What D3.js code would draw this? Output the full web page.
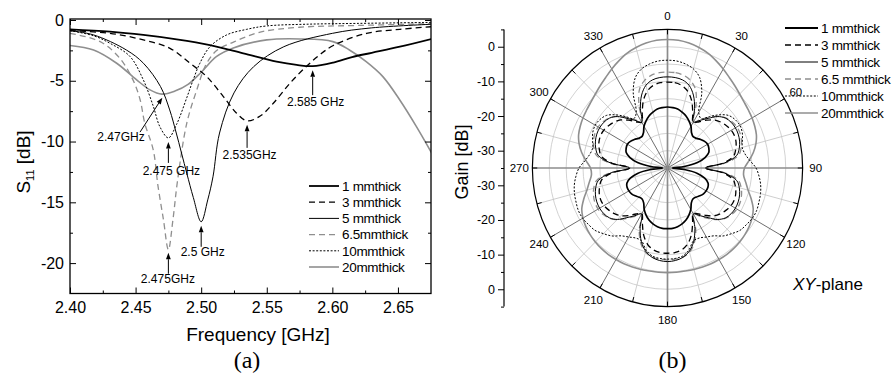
<!DOCTYPE html>
<html>
<head>
<meta charset="utf-8">
<title>S11 and XY-plane gain versus substrate thickness</title>
<script src="https://cdn.jsdelivr.net/npm/d3@7/dist/d3.min.js"></script>
<style>
  html, body { margin: 0; padding: 0; background: #fff; }
  svg { display: block; }
</style>
</head>
<body>
<svg id="fig" width="895" height="375" viewBox="0 0 895 375"></svg>
<script>
// ---------------- data: (a) reflection coefficient ----------------
const freqTicks  = [2.40, 2.45, 2.50, 2.55, 2.60, 2.65];
const freqMinor  = [2.425, 2.475, 2.525, 2.575, 2.625];
const s11Ticks   = [0, -5, -10, -15, -20];
const s11Minor   = [-2.5, -7.5, -12.5, -17.5];

const legendA = ["1 mmthick", "3 mmthick", "5 mmthick", "6.5mmthick", "10mmthick", "20mmthick"];

const freq1mm = [2.400, 2.4305, 2.4559, 2.4813, 2.5067, 2.5321, 2.5575, 2.5728, 2.585, 2.6007, 2.615, 2.630, 2.6515, 2.676];
const s11_1mm = [-0.77, -0.96, -1.23, -1.59, -2.06, -2.74, -3.43, -3.70, -3.80, -3.50, -3.05, -2.70, -2.20, -1.55];

const freq3mm = [2.400, 2.4305, 2.4559, 2.4762, 2.4915, 2.5042, 2.5169, 2.527, 2.535, 2.545, 2.555, 2.5677, 2.580, 2.590, 2.6007, 2.6261, 2.6515, 2.676];
const s11_3mm = [-0.88, -1.10, -1.64, -2.33, -3.56, -4.66, -6.30, -7.67, -8.30, -7.90, -6.85, -5.20, -3.84, -2.90, -2.10, -1.10, -0.77, -0.55];

const freq5mm = [2.400, 2.418, 2.443, 2.456, 2.469, 2.476, 2.481, 2.489, 2.494, 2.500, 2.505, 2.509, 2.514, 2.525, 2.540, 2.563, 2.600, 2.630, 2.676];
const s11_5mm = [-0.88, -1.23, -2.47, -3.56, -5.48, -7.40, -9.30, -12.6, -14.6, -16.6, -14.8, -12.9, -9.3, -6.0, -3.84, -2.20, -1.10, -0.65, -0.35];

const freq65mm = [2.400, 2.423, 2.438, 2.448, 2.4535, 2.457, 2.4635, 2.467, 2.4712, 2.475, 2.4785, 2.482, 2.489, 2.4965, 2.504, 2.512, 2.525, 2.545, 2.575, 2.620, 2.676];
const s11_65mm = [-1.10, -1.78, -3.15, -4.93, -6.58, -8.50, -10.7, -13.6, -16.4, -18.9, -16.4, -13.2, -8.50, -5.80, -3.60, -2.50, -1.80, -1.00, -0.60, -0.45, -0.30];

const freq10mm = [2.400, 2.418, 2.4305, 2.4457, 2.4559, 2.4635, 2.4686, 2.475, 2.4812, 2.489, 2.494, 2.499, 2.5067, 2.5194, 2.5347, 2.550, 2.580, 2.620, 2.676];
const s11_10mm = [-0.88, -1.30, -1.92, -3.00, -4.93, -7.10, -8.80, -9.70, -8.60, -6.40, -4.90, -3.56, -2.20, -1.23, -0.77, -0.49, -0.35, -0.28, -0.20];

const freq20mm = [2.400, 2.418, 2.4356, 2.4508, 2.461, 2.470, 2.480, 2.490, 2.500, 2.5118, 2.5245, 2.550, 2.5754, 2.6004, 2.613, 2.6258, 2.6385, 2.6514, 2.6641, 2.676];
const s11_20mm = [-2.10, -2.47, -3.56, -4.93, -5.75, -6.10, -5.85, -5.30, -4.30, -3.00, -2.30, -1.64, -1.56, -1.78, -2.47, -3.43, -4.66, -6.58, -8.77, -11.0];

// resonance markers: series index, frequency, text
const dipSeries = [0, 1, 4, 5, 2, 3];
const dipFreqs  = [2.585, 2.535, 2.475, 2.47, 2.5, 2.475];
const dipLabels = ["2.585 GHz", "2.535GHz", "2.475 GHz", "2.47GHz", "2.5 GHz", "2.475GHz"];

// ---------------- data: (b) XY-plane gain pattern ----------------
const legendB = ["1 mmthick", "3 mmthick", "5 mmthick", "6.5 mmthick", "10mmthick", "20mmthick"];
const gainTicks = [0, -10, -20, -30];
const gainMinor = [5, -5, -15, -25, -35];
const gridLevels = [-30, -25, -20, -15, -10, -5, 0];
const angleTicks = [0, 30, 60, 90, 120, 150, 180, 210, 240, 270, 300, 330];
const spokeAngles = d3.range(0, 360, 15);
const polarAngles = d3.range(0, 360, 5);   // 0..355 deg, clockwise from top

const gain1mm = [
  -17.4, -17.5, -17.7, -18.3, -19.0, -20.0, -21.1, -22.6, -23.2, -22.9, -22.2, -21.6, -21.3, -21.5, -22.0, -23.5, -26.0, -30.0,
  -33.5, -30.0, -26.0, -23.6, -22.2, -21.8, -21.8, -22.0, -22.5, -23.1, -23.3, -22.7, -21.2, -20.0, -19.0, -18.3, -17.8, -17.5,
  -17.5, -17.5, -17.8, -18.3, -19.0, -20.0, -21.2, -22.7, -23.3, -23.1, -22.5, -22.0, -21.8, -21.8, -22.2, -23.6, -26.0, -30.0,
  -33.5, -30.0, -26.0, -23.5, -22.0, -21.5, -21.3, -21.6, -22.2, -22.9, -23.2, -22.6, -21.1, -20.0, -19.0, -18.3, -17.7, -17.5];

const gain3mm = [
  -10.2, -10.3, -10.8, -12.0, -14.2, -17.3, -19.8, -18.7, -17.0, -15.4, -14.4, -13.7, -13.2, -13.1, -13.4, -14.1, -15.1, -18.4,
  -23.8, -18.4, -15.2, -14.2, -13.5, -13.2, -13.3, -13.8, -14.5, -15.5, -17.1, -18.8, -19.8, -17.4, -14.4, -12.2, -11.0, -10.5,
  -10.4, -10.5, -11.0, -12.2, -14.4, -17.4, -19.8, -18.8, -17.1, -15.5, -14.5, -13.8, -13.3, -13.2, -13.5, -14.2, -15.2, -18.4,
  -23.8, -18.4, -15.1, -14.1, -13.4, -13.1, -13.2, -13.7, -14.4, -15.4, -17.0, -18.7, -19.8, -17.3, -14.2, -12.0, -10.8, -10.3];

const gain5mm = [
  -8.7, -8.8, -9.2, -10.3, -12.6, -16.0, -19.7, -18.2, -16.3, -14.0, -12.6, -12.0, -11.8, -11.9, -12.3, -13.0, -14.2, -18.0,
  -23.8, -18.0, -14.2, -13.0, -12.3, -11.9, -11.8, -12.0, -12.6, -14.0, -16.3, -18.2, -19.7, -15.8, -12.4, -10.1, -8.8, -8.2,
  -8.0, -8.2, -8.8, -10.1, -12.4, -15.8, -19.7, -18.2, -16.3, -14.0, -12.6, -12.0, -11.8, -11.9, -12.3, -13.0, -14.2, -18.0,
  -23.8, -18.0, -14.2, -13.0, -12.3, -11.9, -11.8, -12.0, -12.6, -14.0, -16.3, -18.2, -19.7, -16.0, -12.6, -10.3, -9.2, -8.8];

const gain65mm = [
  -7.3, -7.4, -7.8, -8.8, -10.8, -15.0, -19.6, -17.9, -15.9, -13.9, -12.5, -11.7, -11.3, -11.3, -11.7, -12.4, -13.6, -17.6,
  -23.7, -17.6, -13.6, -12.4, -11.7, -11.3, -11.3, -11.7, -12.5, -13.9, -15.9, -17.9, -19.6, -15.2, -11.9, -9.8, -8.9, -8.6,
  -8.5, -8.6, -8.9, -9.8, -11.9, -15.2, -19.6, -17.9, -15.9, -13.9, -12.5, -11.7, -11.3, -11.3, -11.7, -12.4, -13.6, -17.6,
  -23.7, -17.6, -13.6, -12.4, -11.7, -11.3, -11.3, -11.7, -12.5, -13.9, -15.9, -17.9, -19.6, -15.0, -10.8, -8.8, -7.8, -7.4];

const gain10mm = [
  -3.9, -4.0, -4.5, -5.4, -7.2, -11.0, -16.5, -17.6, -15.6, -13.3, -11.4, -10.6, -10.3, -10.6, -11.4, -12.1, -11.7, -10.5,
  -8.8, -7.8, -7.0, -6.5, -6.2, -5.9, -6.0, -6.5, -7.0, -8.2, -9.4, -11.1, -12.0, -12.7, -12.6, -10.5, -9.2, -8.8,
  -8.7, -8.8, -9.2, -10.5, -12.6, -12.7, -12.0, -11.1, -9.4, -8.2, -7.0, -6.5, -6.0, -5.9, -6.2, -6.5, -7.0, -7.8,
  -8.8, -10.5, -11.7, -12.1, -11.4, -10.6, -10.3, -10.6, -11.4, -13.3, -15.6, -17.6, -16.5, -11.0, -7.2, -5.4, -4.5, -4.0];

const gain20mm = [
  2.1, 2.0, 1.6, 1.0, 0.2, -0.9, -2.0, -3.1, -4.0, -4.8, -5.4, -5.8, -6.1, -6.5, -7.0, -7.9, -9.2, -10.8,
  -12.2, -12.4, -11.5, -10.3, -8.6, -7.0, -6.1, -5.5, -5.1, -4.8, -4.6, -4.5, -4.5, -4.5, -4.6, -4.7, -4.8, -4.8,
  -4.8, -4.8, -4.8, -4.7, -4.6, -4.5, -4.5, -4.5, -4.6, -4.8, -5.1, -5.5, -6.1, -7.0, -8.6, -10.3, -11.5, -12.4,
  -12.2, -10.8, -9.2, -7.9, -7.0, -6.5, -6.1, -5.8, -5.4, -4.8, -4.0, -3.1, -2.0, -0.9, 0.2, 1.0, 1.6, 2.0];

// ---------------- drawing ----------------
const SANS = '"Liberation Sans", Arial, Helvetica, sans-serif';
const SERIF = '"Liberation Serif", "Times New Roman", Times, serif';
const GREY = '#8f8f8f';

const svg = d3.select('#fig');
const defs = svg.append('defs');

// line look for each thickness, in legend order
const looks = [
  { stroke: '#000', width: 1.8, dash: null },
  { stroke: '#000', width: 1.3, dash: '6,4' },
  { stroke: '#000', width: 1.0, dash: null },
  { stroke: GREY,   width: 1.3, dash: '6,4' },
  { stroke: '#000', width: 1.0, dash: '2,1.6' },
  { stroke: GREY,   width: 1.6, dash: null }
];
function applyLook(sel, k) {
  sel.attr('fill', 'none')
     .attr('stroke', looks[k].stroke)
     .attr('stroke-width', looks[k].width)
     .attr('stroke-dasharray', looks[k].dash)
     .attr('stroke-linejoin', 'round');
}

// ======== panel (a) ========
const A = { left: 70, right: 431, top: 19, bottom: 293.5 };
const x = d3.scaleLinear().domain([2.40, 2.6752]).range([A.left, A.right]);
const y = d3.scaleLinear().domain([-22.5, 0.08]).range([A.bottom, A.top]);

defs.append('clipPath').attr('id', 'clip-a').append('rect')
  .attr('x', A.left).attr('y', A.top)
  .attr('width', A.right - A.left).attr('height', A.bottom - A.top);

const seriesA = [
  { f: freq1mm,  v: s11_1mm },
  { f: freq3mm,  v: s11_3mm },
  { f: freq5mm,  v: s11_5mm },
  { f: freq65mm, v: s11_65mm },
  { f: freq10mm, v: s11_10mm },
  { f: freq20mm, v: s11_20mm }
];

const lineA = d3.line().x(d => x(d[0])).y(d => y(d[1])).curve(d3.curveCatmullRom.alpha(0.5));
const curvesA = svg.append('g').attr('clip-path', 'url(#clip-a)');
[5, 3, 4, 1, 2, 0].forEach(k => {
  const s = seriesA[k];
  curvesA.append('path')
    .attr('d', lineA(s.f.map((f, j) => [f, s.v[j]])))
    .call(applyLook, k);
});

function finishAxis(g, size) {
  g.attr('font-family', SANS).attr('font-size', size);
  g.select('.domain').remove();
  g.selectAll('.tick line').attr('stroke', '#000').attr('stroke-width', 1);
  g.selectAll('.tick text').attr('fill', '#000');
}

// inward ticks on all four sides
svg.append('g').attr('transform', `translate(0,${A.bottom})`)
  .call(d3.axisBottom(x).tickValues(freqTicks).tickSize(-6).tickSizeOuter(0).tickPadding(8).tickFormat(d3.format('.2f')))
  .call(finishAxis, 16);
svg.append('g').attr('transform', `translate(0,${A.bottom})`)
  .call(d3.axisBottom(x).tickValues(freqMinor).tickSize(-3).tickSizeOuter(0).tickFormat(''))
  .call(finishAxis, 16);
svg.append('g').attr('transform', `translate(0,${A.top})`)
  .call(d3.axisTop(x).tickValues(freqTicks).tickSize(-6).tickSizeOuter(0).tickFormat(''))
  .call(finishAxis, 16);
svg.append('g').attr('transform', `translate(0,${A.top})`)
  .call(d3.axisTop(x).tickValues(freqMinor).tickSize(-3).tickSizeOuter(0).tickFormat(''))
  .call(finishAxis, 16);
svg.append('g').attr('transform', `translate(${A.left},0)`)
  .call(d3.axisLeft(y).tickValues(s11Ticks).tickSize(-6).tickSizeOuter(0).tickPadding(6).tickFormat(d => String(d)))
  .call(finishAxis, 16);
svg.append('g').attr('transform', `translate(${A.left},0)`)
  .call(d3.axisLeft(y).tickValues(s11Minor).tickSize(-3).tickSizeOuter(0).tickFormat(''))
  .call(finishAxis, 16);
svg.append('g').attr('transform', `translate(${A.right},0)`)
  .call(d3.axisRight(y).tickValues(s11Ticks).tickSize(-6).tickSizeOuter(0).tickFormat(''))
  .call(finishAxis, 16);
svg.append('g').attr('transform', `translate(${A.right},0)`)
  .call(d3.axisRight(y).tickValues(s11Minor).tickSize(-3).tickSizeOuter(0).tickFormat(''))
  .call(finishAxis, 16);

svg.append('rect')
  .attr('x', A.left).attr('y', A.top)
  .attr('width', A.right - A.left).attr('height', A.bottom - A.top)
  .attr('fill', 'none').attr('stroke', '#000').attr('stroke-width', 1.3);

// axis titles
svg.append('text')
  .attr('x', 258).attr('y', 341)
  .attr('text-anchor', 'middle')
  .attr('font-family', SANS).attr('font-size', 19)
  .text('Frequency [GHz]');

const s11Title = svg.append('text')
  .attr('transform', 'translate(30,162) rotate(-90)')
  .attr('text-anchor', 'middle')
  .attr('font-family', SANS).attr('font-size', 19);
s11Title.append('tspan').text('S');
s11Title.append('tspan').attr('dy', 4).attr('font-size', 11).text('11');
s11Title.append('tspan').attr('dy', -4).text(' [dB]');

// resonance arrows: [tip dx, tip dy, tail dx, tail dy, text dx, text dy]
const arrowLayout = [
  [0, 4, 0, 29, 3, 40],
  [0, 4, 0, 27, 2.5, 38],
  [0, 4, 0, 25, 3, 37],
  [0.5, 3.5, -21.8, 38, -40.8, 47],
  [0, 4, 0, 25, 1.5, 34],
  [0, 3, 0, 24, -0.5, 33]
];
const notes = svg.append('g');
dipSeries.forEach((k, i) => {
  const s = seriesA[k];
  const j = s.f.indexOf(dipFreqs[i]);
  const px = x(dipFreqs[i]), py = y(s.v[j]);
  const [tdx, tdy, bdx, bdy, lx, ly] = arrowLayout[i];
  const tip = [px + tdx, py + tdy], tail = [px + bdx, py + bdy];
  const ang = Math.atan2(tip[1] - tail[1], tip[0] - tail[0]);
  const hl = 6.5, hw = 2.4;
  const base = [tip[0] - hl * Math.cos(ang), tip[1] - hl * Math.sin(ang)];
  notes.append('line')
    .attr('x1', tail[0]).attr('y1', tail[1]).attr('x2', base[0]).attr('y2', base[1])
    .attr('stroke', '#000').attr('stroke-width', 1);
  notes.append('path')
    .attr('d', `M${tip[0]},${tip[1]}L${base[0] - hw * Math.sin(ang)},${base[1] + hw * Math.cos(ang)}L${base[0] + hw * Math.sin(ang)},${base[1] - hw * Math.cos(ang)}Z`)
    .attr('fill', '#000');
  notes.append('text')
    .attr('x', px + lx).attr('y', py + ly)
    .attr('text-anchor', 'middle')
    .attr('font-family', SANS).attr('font-size', 12)
    .text(dipLabels[i]);
});

// legend (a)
const legA = svg.append('g').attr('font-family', SANS).attr('font-size', 13.5);
legendA.forEach((name, k) => {
  const yy = 186 + k * 16.2;
  legA.append('line').attr('x1', 309).attr('x2', 339).attr('y1', yy).attr('y2', yy).call(applyLook, k);
  legA.append('text').attr('x', 342).attr('y', yy + 4.8).attr('letter-spacing', -0.3).text(name);
});

svg.append('text')
  .attr('x', 247).attr('y', 368).attr('text-anchor', 'middle')
  .attr('font-family', SERIF).attr('font-size', 24).text('(a)');

// ======== panel (b) ========
const P = { cx: 667.5, cy: 168, R: 138.6, sx: 0.975 };
const r = d3.scaleLinear().domain([-35, 5]).range([0, P.R]);
const rad = a => a * Math.PI / 180;

const gP = svg.append('g').attr('transform', `translate(${P.cx},${P.cy}) scale(${P.sx},1)`);

gP.selectAll('circle.grid').data(gridLevels).join('circle')
  .attr('class', 'grid')
  .attr('r', d => r(d))
  .attr('fill', 'none').attr('stroke', '#c6c6c6').attr('stroke-width', 0.8)
  .attr('vector-effect', 'non-scaling-stroke');

const spokeOrder = spokeAngles.slice().sort((a, b) => (a % 30 === 0) - (b % 30 === 0) || (a % 90 === 0) - (b % 90 === 0));
gP.selectAll('line.spoke').data(spokeOrder).join('line')
  .attr('class', 'spoke')
  .attr('x1', 0).attr('y1', 0)
  .attr('x2', d => P.R * Math.sin(rad(d)))
  .attr('y2', d => -P.R * Math.cos(rad(d)))
  .attr('stroke', d => d % 90 === 0 ? '#8c8c8c' : d % 30 === 0 ? '#6e6e6e' : '#c2c2c2')
  .attr('stroke-width', d => d % 90 === 0 ? 1.7 : d % 30 === 0 ? 1.0 : 0.8)
  .attr('vector-effect', 'non-scaling-stroke');

const seriesB = [gain1mm, gain3mm, gain5mm, gain65mm, gain10mm, gain20mm];
const lineB = d3.lineRadial()
  .angle(d => rad(d[0]))
  .radius(d => r(d[1]))
  .curve(d3.curveCatmullRomClosed.alpha(0.5));
[5, 3, 4, 1, 2, 0].forEach(k => {
  gP.append('path')
    .attr('d', lineB(polarAngles.map((a, j) => [a, seriesB[k][j]])))
    .call(applyLook, k)
    .attr('stroke-width', k === 0 ? 1.7 : looks[k].width)
    .attr('vector-effect', 'non-scaling-stroke');
});

gP.append('circle').attr('r', P.R)
  .attr('fill', 'none').attr('stroke', '#000').attr('stroke-width', 1.2)
  .attr('vector-effect', 'non-scaling-stroke');
gP.selectAll('line.rim').data(spokeAngles).join('line')
  .attr('class', 'rim')
  .attr('x1', d => P.R * Math.sin(rad(d))).attr('y1', d => -P.R * Math.cos(rad(d)))
  .attr('x2', d => (P.R - 5) * Math.sin(rad(d))).attr('y2', d => -(P.R - 5) * Math.cos(rad(d)))
  .attr('stroke', '#000').attr('stroke-width', 1)
  .attr('vector-effect', 'non-scaling-stroke');

// angle labels
const rLab = 152;
svg.append('g').attr('font-family', SANS).attr('font-size', 11.5)
  .selectAll('text').data(angleTicks).join('text')
  .attr('x', d => P.cx + P.sx * rLab * Math.sin(rad(d)))
  .attr('y', d => P.cy - rLab * Math.cos(rad(d)))
  .attr('text-anchor', 'middle')
  .attr('dominant-baseline', 'central')
  .text(d => String(d));

// radial gain axis, mirrored about the centre
const axX = 504;
const yUp = d3.scaleLinear().domain([-35, 5]).range([P.cy, P.cy - P.R]);
const yDown = d3.scaleLinear().domain([-35, 5]).range([P.cy, P.cy + P.R]);
[yUp, yDown].forEach(sc => {
  svg.append('g').attr('transform', `translate(${axX},0)`)
    .call(d3.axisLeft(sc).tickValues(gainTicks).tickSize(6).tickSizeOuter(0).tickPadding(3).tickFormat(d => String(d)))
    .call(finishAxis, 12.5);
  svg.append('g').attr('transform', `translate(${axX},0)`)
    .call(d3.axisLeft(sc).tickValues(gainMinor).tickSize(3).tickSizeOuter(0).tickFormat(''))
    .call(finishAxis, 12.5);
});
svg.append('line')
  .attr('x1', axX).attr('x2', axX)
  .attr('y1', P.cy - P.R).attr('y2', P.cy + P.R)
  .attr('stroke', '#000').attr('stroke-width', 1.2);

svg.append('text')
  .attr('transform', 'translate(468,162) rotate(-90)')
  .attr('text-anchor', 'middle')
  .attr('font-family', SANS).attr('font-size', 18)
  .text('Gain [dB]');

// legend (b)
const legB = svg.append('g').attr('font-family', SANS).attr('font-size', 13.5);
legendB.forEach((name, k) => {
  const yy = 28 + k * 17;
  legB.append('line').attr('x1', 785).attr('x2', 818).attr('y1', yy).attr('y2', yy).call(applyLook, k);
  legB.append('text').attr('x', 821).attr('y', yy + 4.8).attr('letter-spacing', -0.3).text(name);
});

const plane = svg.append('text')
  .attr('x', 793).attr('y', 290)
  .attr('font-family', SANS).attr('font-size', 17);
plane.append('tspan').attr('font-style', 'italic').text('XY');
plane.append('tspan').text('-plane');

svg.append('text')
  .attr('x', 672.5).attr('y', 368).attr('text-anchor', 'middle')
  .attr('font-family', SERIF).attr('font-size', 24).text('(b)');
</script>
</body>
</html>
